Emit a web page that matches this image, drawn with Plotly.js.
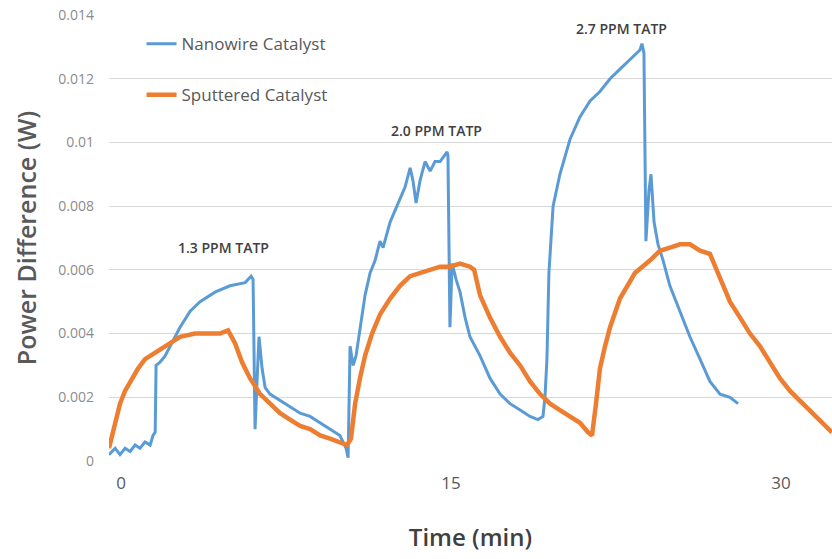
<!DOCTYPE html>
<html>
<head>
<meta charset="utf-8">
<script src="https://cdn.plot.ly/plotly-3.0.1.min.js"></script>
<style>html,body{margin:0;padding:0;background:#fff;}#chart{width:832px;height:559px;}</style>
</head>
<body>
<div id="chart"></div>
<script>
// Nanowire Catalyst (blue) readings: time (min), power difference (W)
const nanowireTime = [-0.55,-0.27,-0.05,0.18,0.41,0.64,0.86,1.09,1.32,1.45,1.55,1.59,1.77,2.0,2.23,2.45,2.68,3.14,3.59,4.27,4.95,5.64,5.91,6.0,6.09,6.18,6.27,6.41,6.55,6.77,7.23,7.68,8.14,8.59,9.05,9.5,9.95,10.23,10.32,10.41,10.55,10.68,10.86,11.09,11.32,11.55,11.77,11.91,12.23,12.41,12.68,12.91,13.14,13.27,13.41,13.59,13.82,14.05,14.27,14.5,14.82,14.86,14.95,15.05,15.23,15.41,15.64,15.86,16.32,16.77,17.23,17.68,18.14,18.59,18.95,19.18,19.27,19.36,19.45,19.64,19.95,20.41,20.86,21.32,21.77,22.23,22.68,23.14,23.59,23.68,23.77,23.86,24.0,24.09,24.23,24.41,24.64,24.95,25.41,25.86,26.32,26.77,27.23,27.68,28.05];
const nanowirePower = [0.0002,0.0004,0.0002,0.0004,0.0003,0.0005,0.0004,0.0006,0.0005,0.0008,0.0009,0.0030,0.0031,0.0033,0.0036,0.0039,0.0042,0.0047,0.0050,0.0053,0.0055,0.0056,0.0058,0.0057,0.0010,0.0025,0.0039,0.0029,0.0023,0.0021,0.0019,0.0017,0.0015,0.0014,0.0012,0.0010,0.0008,0.0004,0.0001,0.0036,0.0030,0.0033,0.0042,0.0052,0.0059,0.0063,0.0069,0.0067,0.0075,0.0078,0.0082,0.0086,0.0092,0.0088,0.0081,0.0088,0.0094,0.0091,0.0094,0.0094,0.0097,0.0096,0.0042,0.0062,0.0057,0.0053,0.0045,0.0039,0.0033,0.0026,0.0021,0.0018,0.0016,0.0014,0.0013,0.0014,0.0020,0.0032,0.0059,0.0080,0.0090,0.0101,0.0108,0.0113,0.0116,0.0120,0.0123,0.0126,0.0129,0.0131,0.0128,0.0069,0.0085,0.0090,0.0075,0.0068,0.0063,0.0055,0.0047,0.0039,0.0032,0.0025,0.0021,0.0020,0.0018];

// Sputtered Catalyst (orange) readings
const sputteredTime = [-0.55,-0.41,-0.23,-0.05,0.18,0.41,0.77,1.09,1.55,2.0,2.68,3.36,4.05,4.5,4.86,5.18,5.5,5.86,6.32,6.77,7.23,7.68,8.14,8.59,9.05,9.5,9.95,10.27,10.45,10.64,10.86,11.09,11.41,11.77,12.23,12.68,13.14,13.59,14.05,14.5,14.95,15.41,15.86,16.05,16.32,16.77,17.23,17.68,18.14,18.59,19.05,19.5,19.95,20.41,20.86,21.23,21.41,21.59,21.77,22.0,22.23,22.68,23.36,24.05,24.5,24.95,25.41,25.86,26.32,26.77,26.95,27.23,27.68,28.14,28.59,29.05,29.5,29.95,30.41,30.86,31.32,31.77,32.32];
const sputteredPower = [0.0004,0.0008,0.0013,0.0018,0.0022,0.0025,0.0029,0.0032,0.0034,0.0036,0.0039,0.0040,0.0040,0.0040,0.0041,0.0037,0.0031,0.0026,0.0021,0.0018,0.0015,0.0013,0.0011,0.0010,0.0008,0.0007,0.0006,0.0005,0.0007,0.0018,0.0026,0.0033,0.0040,0.0046,0.0051,0.0055,0.0058,0.0059,0.0060,0.0061,0.0061,0.0062,0.0061,0.0060,0.0052,0.0045,0.0039,0.0034,0.0030,0.0025,0.0021,0.0018,0.0016,0.0014,0.0012,0.0009,0.0008,0.0018,0.0029,0.0036,0.0042,0.0051,0.0059,0.0063,0.0066,0.0067,0.0068,0.0068,0.0066,0.0065,0.0062,0.0057,0.0050,0.0045,0.0040,0.0036,0.0031,0.0026,0.0022,0.0019,0.0016,0.0013,0.0009];

const seriesNames = ["Nanowire Catalyst", "Sputtered Catalyst"];
const xTickValues = [0, 15, 30];
const xTickLabels = ["0", "15", "30"];
const yTickValues = [0, 0.002, 0.004, 0.006, 0.008, 0.01, 0.012, 0.014];
const yTickLabels = ["0", "0.002", "0.004", "0.006", "0.008", "0.01", "0.012", "0.014"];
const concentrationLabels = ["1.3 PPM TATP", "2.0 PPM TATP", "2.7 PPM TATP"];

const FONT = "Open Sans, Lato, sans-serif";

const traces = [
  {x: nanowireTime, y: nanowirePower, name: seriesNames[0], type: "scatter", mode: "lines",
   line: {color: "#5B9BD5", width: 3}, legendgroup: "a"},
  {x: sputteredTime, y: sputteredPower, name: seriesNames[1], type: "scatter", mode: "lines",
   line: {color: "#ED7D31", width: 4.5}, legendgroup: "b"}
];

const labelPos = [[4.64, 0.00669], [14.36, 0.01039], [22.77, 0.01359]];
const annotations = concentrationLabels.map((t, i) => ({
  x: labelPos[i][0], y: labelPos[i][1], xref: "x", yref: "y", text: t, showarrow: false,
  font: {family: FONT, size: 14, color: "#404040", weight: 600}
}));

const layout = {
  width: 832, height: 559,
  margin: {l: 109, r: 0, t: 15, b: 98},
  paper_bgcolor: "#fff", plot_bgcolor: "#fff",
  showlegend: true,
  legend: {x: 0.045, y: 0.975, xanchor: "left", yanchor: "top", traceorder: "grouped",
           tracegroupgap: 26, bgcolor: "rgba(0,0,0,0)", itemwidth: 30,
           font: {family: FONT, size: 17, color: "#595959"}},
  xaxis: {range: [-0.55, 32.32], tickvals: xTickValues, ticktext: xTickLabels,
          showgrid: false, zeroline: false, showline: false, ticks: "",
          ticklabelstandoff: 10,
          tickfont: {family: FONT, size: 17, color: "#595959"},
          title: {text: "Time (min)", standoff: 36, font: {family: FONT, size: 24, color: "#404040", weight: 600}}},
  yaxis: {range: [0, 0.014], tickvals: yTickValues, ticktext: yTickLabels,
          showgrid: true, gridcolor: "#d9d9d9", gridwidth: 1, zeroline: false, showline: false, ticks: "",
          ticklabelstandoff: 14,
          tickfont: {family: FONT, size: 14, color: "#8c8c8c"},
          title: {text: "Power Difference (W)", standoff: 14, font: {family: FONT, size: 25, color: "#595959", weight: 600}}},
  annotations: annotations
};

Plotly.newPlot("chart", traces, layout, {displayModeBar: false, staticPlot: true});
</script>
</body>
</html>
